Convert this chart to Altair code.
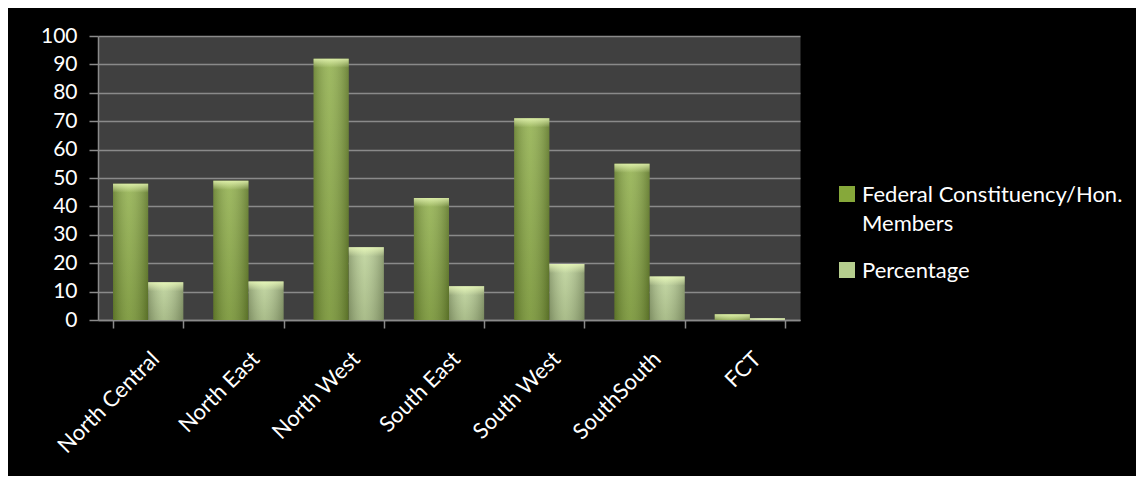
import altair as alt
import pandas as pd

regions = ["North Central", "North East", "North West", "South East",
           "South West", "SouthSouth", "FCT"]
members = [48, 49, 92, 43, 71, 55, 2]
percentage = [13.3, 13.6, 25.6, 11.9, 19.7, 15.3, 0.6]
series_names = ["Federal Constituency/Hon. Members", "Percentage"]
legend_lines = [["Federal Constituency/Hon.", "Members"], ["Percentage"]]
series_colors = ["#86a83a", "#b6ce8e"]
y_ticks = [0, 10, 20, 30, 40, 50, 60, 70, 80, 90, 100]

rows = []
for r, m, p in zip(regions, members, percentage):
    rows.append({"region": r, "series": series_names[0], "value": m})
    rows.append({"region": r, "series": series_names[1], "value": p})
df = pd.DataFrame(rows)
leg_df = pd.DataFrame({"series": series_names})

FONT = "Lato"
GRID = "#8a8a8a"

color_scale = alt.Scale(domain=series_names, range=series_colors)

x = alt.X("region:N", sort=regions,
          scale=alt.Scale(paddingInner=0.3, paddingOuter=0.15),
          axis=alt.Axis(title=None, labelAngle=-45, labelColor="white",
                        labelFontSize=22, labelFont=FONT, tickBand="extent",
                        tickColor=GRID, domainColor=GRID, tickSize=8,
                        tickWidth=1.5, domainWidth=1.5, labelPadding=20,
                        grid=False))
xo = alt.XOffset("series:N", sort=series_names,
                 scale=alt.Scale(paddingInner=0, paddingOuter=0))
y = alt.Y("value:Q", scale=alt.Scale(domain=[0, 100], nice=False),
          axis=alt.Axis(title=None, values=y_ticks, labelColor="white",
                        labelFontSize=21, labelFont=FONT, tickColor=GRID,
                        domainColor=GRID, tickSize=9, tickWidth=1.5,
                        domainWidth=1.5, gridColor=GRID, gridWidth=1.5,
                        labelPadding=12))

base = alt.Chart(df).mark_bar().encode(
    x=x, xOffset=xo, y=y,
    color=alt.Color("series:N", sort=series_names, scale=color_scale,
                    legend=None),
)

vshade = alt.Chart(df).mark_bar(
    fill=alt.Gradient(gradient="linear", x1=0, x2=0, y1=0, y2=1,
                      stops=[alt.GradientStop(offset=0, color="rgba(255,255,255,0.12)"),
                             alt.GradientStop(offset=1, color="rgba(0,0,0,0.12)")])
).encode(x=x, xOffset=xo, y=y)

hshade = alt.Chart(df).mark_bar(
    fill=alt.Gradient(gradient="linear", x1=0, x2=1, y1=0, y2=0,
                      stops=[alt.GradientStop(offset=0, color="rgba(0,0,0,0.22)"),
                             alt.GradientStop(offset=0.45, color="rgba(255,255,255,0.10)"),
                             alt.GradientStop(offset=1, color="rgba(0,0,0,0.25)")])
).encode(x=x, xOffset=xo, y=y)

cap = alt.Chart(df).mark_rect(
    y2Offset=9, clip=True,
    fill=alt.Gradient(gradient="linear", x1=0, x2=0, y1=0, y2=1,
                      stops=[alt.GradientStop(offset=0, color="rgba(240,255,190,0.75)"),
                             alt.GradientStop(offset=1, color="rgba(240,255,190,0.0)")])
).encode(x=x, xOffset=xo, y=y, y2=alt.Y2("value:Q"))

# legend (drawn as marks so the wrapped label gets proper line spacing)
legend_layers = []
sym_y = [158, 234]
txt_y = [166, 242]
for i, name in enumerate(series_names):
    sq = alt.Chart(leg_df).transform_filter(
        alt.datum.series == name
    ).mark_square(size=256, opacity=1, strokeWidth=0).encode(
        x=alt.value(749), y=alt.value(sym_y[i]),
        color=alt.Color("series:N", sort=series_names, scale=color_scale,
                        legend=None),
    )
    tx = alt.Chart(leg_df).transform_filter(
        alt.datum.series == name
    ).mark_text(align="left", baseline="alphabetic", font=FONT, fontSize=22,
                color="white", lineHeight=29).encode(
        x=alt.value(764), y=alt.value(txt_y[i]),
        text=alt.value(legend_lines[i]),
    )
    legend_layers += [sq, tx]

chart = alt.layer(base, vshade, hshade, cap, *legend_layers).properties(
    width=702, height=284,
    padding={"left": 90, "top": 28, "right": 336, "bottom": 156},
    autosize=alt.AutoSizeParams(type="none"),
    background="black",
).configure_view(fill="#404040", strokeOpacity=0)

chart.save("out.html", embed_options={"renderer": "svg", "actions": False})
